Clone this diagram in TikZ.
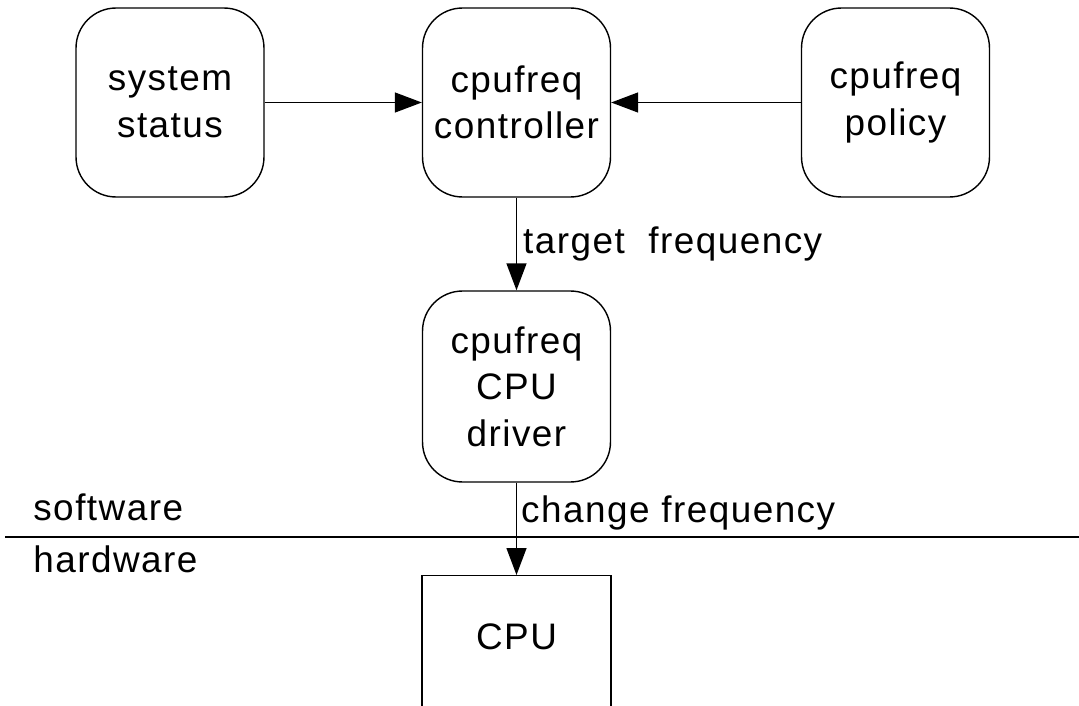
\documentclass[tikz,border=0pt]{standalone}
\usepackage{fontspec}
\setmainfont{Liberation Sans}[LetterSpace=4]
\usetikzlibrary{arrows.meta,positioning,calc}

\begin{document}
\begin{tikzpicture}[x=0.02cm, y=-0.02cm,
    block/.style={draw, line width=0.8pt, rounded corners=0.8cm, minimum width=3.76cm, minimum height=3.78cm,
        align=center, font=\fontsize{21}{26.5}\selectfont},
    hwbox/.style={draw, line width=0.8pt, minimum width=3.78cm, minimum height=5cm},
    flow/.style={line width=0.8pt, -{Triangle[length=5.4mm,width=4mm]}},
    tag/.style={font=\fontsize{21}{26.5}\selectfont, inner sep=0pt}]
    \useasboundingbox (0,0) rectangle (1079,706);
    \clip (0,0) rectangle (1079,706);

    \node[block] (status) at (170,102.5) {system\\status};
    \node[block] (ctrl) at (516.5,102.5) {cpufreq\\controller};
    \node[block] (policy) at (895.5,102.5) {cpufreq\\policy};
    \node[block, minimum height=3.82cm] (drv) at (516.5,386.5) {cpufreq\\CPU\\driver};
    \node[hwbox, anchor=north] (cpu) at (516.5,575) {}; % runs off the bottom
    \node[tag] (cpulabel) at (516.5,637) {CPU};

    \draw[flow] (status) -- (ctrl);
    \draw[flow] (policy) -- (ctrl);
    \draw[flow] (ctrl) -- node[tag, anchor=base west, pos=0.6, xshift=0.12cm] (tf) {target~~frequency} (drv);
    \draw[flow] (drv) -- node[tag, anchor=base west, pos=0.43, xshift=0.08cm] (cf) {change frequency} (cpu);

    \coordinate (lineL) at (5,537);
    \coordinate (lineR) at (1079,537);
    \draw[line width=0.8pt] (lineL) -- (lineR);
    \node[tag, anchor=base west] (sw) at (33,520) {software};
    \node[tag, anchor=base west] (hw) at (33,572) {hardware};
\end{tikzpicture}
\end{document}
